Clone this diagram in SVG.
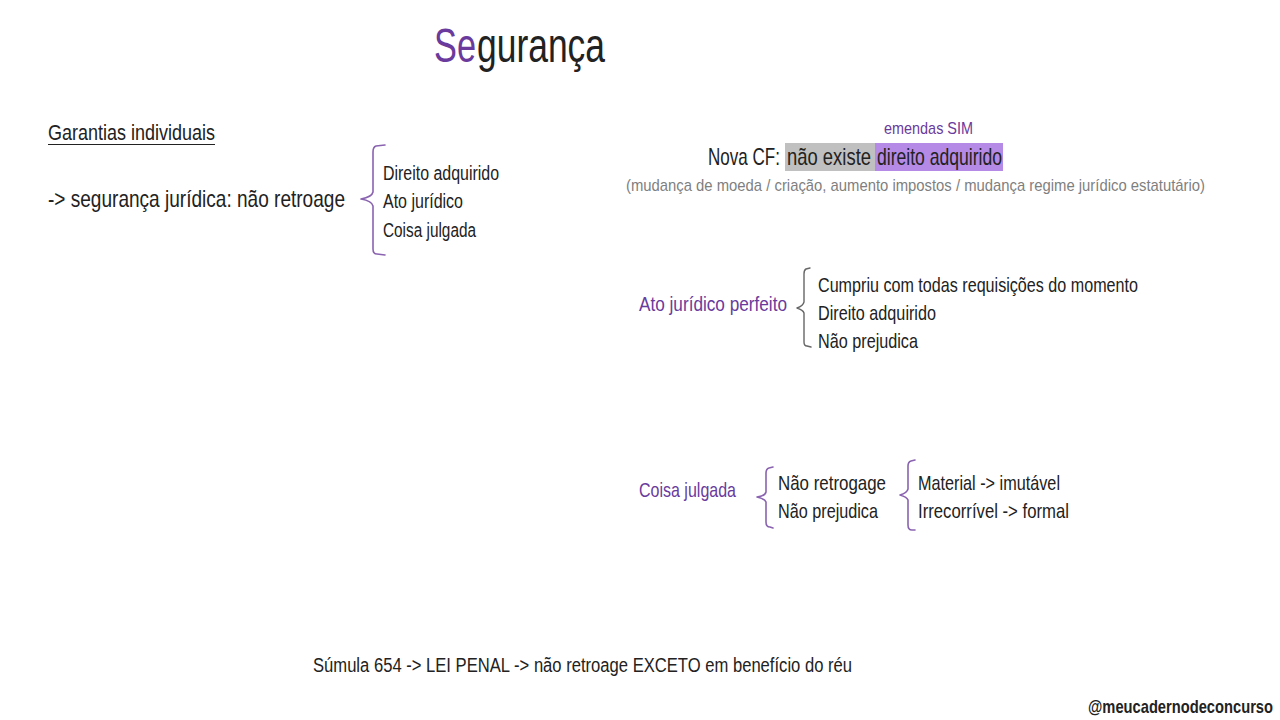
<svg xmlns="http://www.w3.org/2000/svg" width="1280" height="720" viewBox="0 0 1280 720">
<style>
text{font-family:"Liberation Sans","DejaVu Sans",sans-serif;fill:#222;}
.p{fill:#6a3a9c;}
.g{fill:#7f7f7f;}
.br{fill:none;stroke:#8a63b0;stroke-width:1.6;stroke-linejoin:round;stroke-linecap:round;}
.brk{fill:none;stroke:#666;stroke-width:1.4;stroke-linejoin:round;stroke-linecap:round;}
</style>
<rect width="1280" height="720" fill="#fff"/>
<g id="title">
<text class="p" x="434" y="62" font-size="48" textLength="42" lengthAdjust="spacingAndGlyphs">Se</text>
<text x="477" y="62" font-size="48" textLength="128" lengthAdjust="spacingAndGlyphs">gurança</text>
</g>
<g id="garantias">
<text x="48" y="140" font-size="22" textLength="167" lengthAdjust="spacingAndGlyphs">Garantias individuais</text>
<line x1="48" y1="144.5" x2="215" y2="144.5" stroke="#222" stroke-width="1.2"/>
</g>
<g id="seguranca-juridica">
<text x="48" y="207" font-size="24" textLength="297" lengthAdjust="spacingAndGlyphs">-&gt; segurança jurídica: não retroage</text>
</g>
<g id="lista1">
<text x="383" y="180" font-size="20" textLength="116" lengthAdjust="spacingAndGlyphs">Direito adquirido</text>
<text x="383" y="208" font-size="20" textLength="80" lengthAdjust="spacingAndGlyphs">Ato jurídico</text>
<text x="383" y="237" font-size="20" textLength="93" lengthAdjust="spacingAndGlyphs">Coisa julgada</text>
</g>
<g id="nova-cf">
<text class="p" x="884" y="134" font-size="17" textLength="89" lengthAdjust="spacingAndGlyphs">emendas SIM</text>
<rect x="785" y="143" width="90" height="28" fill="#c0c0c0"/>
<rect x="875" y="143" width="128" height="28" fill="#b48ae6"/>
<text x="708" y="165" font-size="24" textLength="72" lengthAdjust="spacingAndGlyphs">Nova CF:</text>
<text x="787" y="165" font-size="24" textLength="84" lengthAdjust="spacingAndGlyphs">não existe</text>
<text x="877" y="165" font-size="24" textLength="125" lengthAdjust="spacingAndGlyphs">direito adquirido</text>
<text class="g" x="626" y="191" font-size="17" textLength="579" lengthAdjust="spacingAndGlyphs">(mudança de moeda / criação, aumento impostos / mudança regime jurídico estatutário)</text>
</g>
<g id="ato-juridico-perfeito">
<text class="p" x="639" y="311" font-size="21" textLength="148" lengthAdjust="spacingAndGlyphs">Ato jurídico perfeito</text>
<text x="818" y="292" font-size="21" textLength="320" lengthAdjust="spacingAndGlyphs">Cumpriu com todas requisições do momento</text>
<text x="818" y="320" font-size="21" textLength="118" lengthAdjust="spacingAndGlyphs">Direito adquirido</text>
<text x="818" y="348" font-size="21" textLength="100" lengthAdjust="spacingAndGlyphs">Não prejudica</text>
</g>
<g id="coisa-julgada">
<text class="p" x="639" y="497" font-size="21" textLength="97" lengthAdjust="spacingAndGlyphs">Coisa julgada</text>
<text x="778" y="490" font-size="21" textLength="108" lengthAdjust="spacingAndGlyphs">Não retrogage</text>
<text x="778" y="518" font-size="21" textLength="100" lengthAdjust="spacingAndGlyphs">Não prejudica</text>
<text x="918" y="490" font-size="21" textLength="142" lengthAdjust="spacingAndGlyphs">Material -&gt; imutável</text>
<text x="918" y="518" font-size="21" textLength="151" lengthAdjust="spacingAndGlyphs">Irrecorrível -&gt; formal</text>
</g>
<g id="sumula">
<text x="313" y="672" font-size="20" textLength="539" lengthAdjust="spacingAndGlyphs">Súmula 654 -&gt; LEI PENAL -&gt; não retroage EXCETO em benefício do réu</text>
</g>
<g id="assinatura">
<text x="1088" y="713" font-size="19" font-weight="bold" textLength="185" lengthAdjust="spacingAndGlyphs">@meucadernodeconcurso</text>
</g>
<g id="connectors">
<path class="br" d="M385,145 L376,146 Q373,147 373,152 L373,192 Q372,197 361,199 Q372,201 373,206 L373,249 Q373,254 377,254 L385,255"/>
<path class="brk" d="M810,268 L806,269 Q804,270 804,274 L804,302 Q803,306 797,308 Q803,310 804,313 L804,342 Q804,346 807,346 L811,347"/>
<path class="br" d="M773,467 L769,468 Q766,469 766,473 L766,492 Q765,496 757,497 Q765,499 766,502 L766,522 Q766,527 770,527 L773,528"/>
<path class="br" d="M915,460 L911,461 Q908,462 908,466 L908,489 Q907,493 900,495 Q907,497 908,500 L908,525 Q908,530 912,530 L915,530"/>
</g>
</svg>
